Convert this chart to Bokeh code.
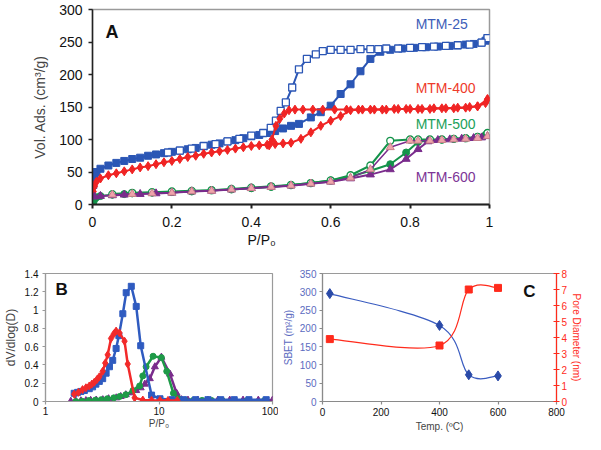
from bokeh.plotting import figure
from bokeh.layouts import column, row
from bokeh.models import Range1d, LinearAxis, Label, Title, FixedTicker, CustomJSTickFormatter
from bokeh.embed import file_html
from bokeh.resources import INLINE

FONT = "Liberation Sans"

# ---------------- Panel A : N2 isotherms ----------------
a25_ads_p = [0.002, 0.005, 0.01, 0.02, 0.04, 0.06, 0.08, 0.10, 0.12, 0.14, 0.16, 0.18, 0.20, 0.22, 0.24,
             0.26, 0.28, 0.30, 0.32, 0.34, 0.36, 0.38, 0.40, 0.42, 0.44, 0.46, 0.48, 0.50, 0.52, 0.55,
             0.575, 0.60, 0.625, 0.65, 0.675, 0.70, 0.725, 0.75, 0.78, 0.81, 0.84, 0.87, 0.90, 0.92,
             0.94, 0.96, 0.98, 0.99, 0.995]
a25_ads_v = [30, 42, 50, 55, 60, 64, 67, 70, 72, 75, 77, 79, 81, 83, 85, 87, 90, 92, 94, 97, 99, 102, 105,
             107, 110, 113, 117, 121, 124, 134, 142, 152, 170, 185, 205, 224, 235, 238, 240, 241, 242,
             243, 244, 245, 246, 247, 249, 252, 256]
a25_des_p = [0.995, 0.98, 0.95, 0.92, 0.89, 0.86, 0.83, 0.80, 0.77, 0.74, 0.72, 0.70, 0.675, 0.65, 0.625,
             0.60, 0.58, 0.5625, 0.54, 0.52, 0.503, 0.487, 0.474, 0.462, 0.449, 0.43, 0.40, 0.37, 0.34,
             0.31, 0.28, 0.25, 0.22, 0.19]
a25_des_v = [256, 249, 246, 245, 244, 243, 242, 241, 240, 240, 239, 239, 239, 238, 238, 238, 236, 231,
             224, 208, 180, 157, 144, 129, 118, 110, 106, 101, 97, 93, 90, 86, 83, 80]

a400_ads_p = [0.002, 0.005, 0.01, 0.02, 0.04, 0.06, 0.08, 0.10, 0.12, 0.14, 0.16, 0.18, 0.20, 0.22, 0.24,
              0.26, 0.28, 0.30, 0.32, 0.34, 0.36, 0.38, 0.40, 0.42, 0.44, 0.46, 0.48, 0.50, 0.525, 0.55,
              0.575, 0.60, 0.625, 0.65, 0.68, 0.71, 0.74, 0.77, 0.80, 0.83, 0.86, 0.89, 0.92, 0.95, 0.97,
              0.99, 0.995]
a400_ads_v = [20, 28, 35, 40, 45, 48, 51, 54, 57, 59, 62, 65, 67, 70, 73, 75, 78, 80, 82, 84, 86, 88, 90,
              91, 92, 93, 94, 95, 101, 111, 121, 129, 136, 145, 146, 146, 146, 147, 147, 147, 148, 148,
              149, 150, 151, 156, 162]
a400_des_p = [0.995, 0.97, 0.94, 0.91, 0.88, 0.85, 0.82, 0.79, 0.76, 0.73, 0.70, 0.67, 0.64, 0.61, 0.58,
              0.555, 0.53, 0.51, 0.495, 0.483, 0.472, 0.462, 0.452, 0.445]
a400_des_v = [162, 151, 149, 148, 148, 147, 147, 147, 147, 146, 146, 146, 146, 146, 146, 146, 146, 146,
              145, 140, 132, 121, 100, 91]

a500_ads_p = [0.002, 0.005, 0.01, 0.02, 0.05, 0.08, 0.10, 0.15, 0.20, 0.25, 0.30, 0.35, 0.40, 0.45, 0.50,
              0.55, 0.60, 0.65, 0.70, 0.75, 0.79, 0.82, 0.85, 0.88, 0.91, 0.94, 0.97, 0.99, 0.995]
a500_ads_v = [3, 8, 11, 13, 15, 16, 17, 18, 19, 20, 22, 23, 25, 27, 30, 33, 37, 43, 52, 62, 80, 96, 99,
              100, 101, 102, 104, 107, 110]
a500_des_p = [0.995, 0.97, 0.94, 0.91, 0.88, 0.85, 0.82, 0.80, 0.75, 0.70, 0.65, 0.60, 0.55, 0.50, 0.45,
              0.40, 0.35, 0.30, 0.25, 0.20, 0.15, 0.10, 0.05]
a500_des_v = [110, 104, 102, 101, 100, 100, 100, 100, 98, 60, 45, 37, 33, 30, 28, 26, 24, 22, 21, 20, 19,
              18, 16]

a600_ads_p = [0.005, 0.02, 0.05, 0.08, 0.12, 0.16, 0.20, 0.25, 0.30, 0.35, 0.40, 0.45, 0.50, 0.55, 0.60,
              0.65, 0.70, 0.75, 0.79, 0.82, 0.845, 0.87, 0.90, 0.93, 0.96, 0.98, 0.995]
a600_ads_v = [12, 13, 14, 15, 16, 17, 18, 20, 21, 23, 25, 27, 29, 32, 35, 40, 46, 54, 70, 85, 97, 99, 100,
              101, 102, 103, 105]
a600_des_p = [0.995, 0.97, 0.94, 0.91, 0.88, 0.85, 0.82, 0.80, 0.75, 0.70, 0.65, 0.60, 0.55, 0.50, 0.45,
              0.40, 0.35, 0.30, 0.25, 0.20, 0.15, 0.10, 0.05]
a600_des_v = [105, 102, 101, 100, 99, 98, 98, 98, 88, 54, 41, 35, 32, 29, 27, 25, 23, 21, 20, 18, 17, 16, 15]

a_xticks = [0, 0.2, 0.4, 0.6, 0.8, 1.0]
a_yticks = [0, 50, 100, 150, 200, 250, 300]

# ---------------- Panel B : pore size distribution ----------------
b25_x = [1.79, 1.92, 2.05, 2.2, 2.43, 2.6, 2.78, 2.98, 3.19, 3.42, 3.66, 3.91, 4.19, 4.43, 4.8, 5.14, 5.7,
         6.3, 6.9, 8.6, 10.2, 13.0, 16.5, 21, 27, 35, 46, 62, 88]
b25_y = [0.09, 0.10, 0.11, 0.12, 0.14, 0.16, 0.19, 0.22, 0.25, 0.31, 0.38, 0.45, 0.58, 0.72, 0.96, 1.19,
         1.26, 1.04, 0.61, 0.07, 0.03, 0.02, 0.02, 0.02, 0.02, 0.02, 0.02, 0.02, 0.02]
b400_x = [1.79, 1.95, 2.12, 2.27, 2.43, 2.56, 2.69, 2.84, 2.98, 3.19, 3.36, 3.53, 3.78, 4.0, 4.19, 4.49,
          4.97, 5.3, 6.1, 7.2, 8.6, 10.2, 12, 14.5]
b400_y = [0.08, 0.10, 0.13, 0.15, 0.17, 0.19, 0.21, 0.24, 0.27, 0.33, 0.42, 0.51, 0.69, 0.74, 0.77, 0.75,
          0.66, 0.41, 0.04, 0.016, 0.013, 0.012, 0.012, 0.012]
b500_x = [1.85, 2.1, 2.4, 2.75, 3.1, 3.5, 4.0, 4.5, 5.1, 5.9, 6.75, 7.2, 7.7, 8.87, 10.5, 11.7, 13.4, 14.8,
          17, 20, 24, 29, 36, 46, 60, 85]
b500_y = [0.0, 0.003, 0.01, 0.015, 0.02, 0.03, 0.04, 0.055, 0.074, 0.12, 0.17, 0.28, 0.38, 0.495, 0.48,
          0.33, 0.09, 0.03, 0.015, 0.012, 0.012, 0.012, 0.012, 0.012, 0.012, 0.012]
b600_x = [1.67, 1.85, 2.05, 2.27, 2.5, 2.8, 3.2, 3.6, 4.2, 4.6, 5.1, 5.7, 6.3, 6.9, 7.5, 8.3, 9.2, 10.5,
          12.5, 14.3, 15.8, 18, 22, 27, 33, 42, 55, 75, 100]
b600_y = [0.003, 0.005, 0.008, 0.01, 0.013, 0.016, 0.02, 0.03, 0.04, 0.055, 0.074, 0.095, 0.12, 0.15,
          0.19, 0.25, 0.38, 0.485, 0.30, 0.09, 0.02, 0.015, 0.015, 0.015, 0.015, 0.015, 0.015, 0.015, 0.015]
b_xticks = [1, 10, 100]
b_yticks = [0, 0.2, 0.4, 0.6, 0.8, 1.0, 1.2, 1.4]

# ---------------- Panel C : SBET and pore diameter vs temperature ----------------
c_temp = [25, 400, 500, 600]
c_sbet = [295, 208, 73, 70]
c_pore = [3.9, 3.5, 7.0, 7.1]
c_xticks = [0, 200, 400, 600, 800]
c_yticks = [0, 50, 100, 150, 200, 250, 300, 350]
c_y2ticks = [0, 1, 2, 3, 4, 5, 6, 7, 8]

BLUE = "#2B56B5"
RED = "#F02424"
GREEN = "#14934A"
PURPLE = "#7A2C8C"
PINK_FILL = "#EFA3AB"
PINK_LINE = "#C8808A"

num_fmt = CustomJSTickFormatter(code="return Number(tick.toFixed(2)).toString();")


def style_axis(ax, size, color="#222222", lw=1.5, tick_out=4, standoff=6, label_size=None, label_color=None):
    ax.major_label_text_font = FONT
    ax.major_label_text_font_size = f"{size}px"
    ax.major_label_text_color = "#111111" if label_color is None else label_color
    ax.axis_line_color = color
    ax.axis_line_width = lw
    ax.major_tick_line_color = color
    ax.major_tick_line_width = lw
    ax.major_tick_in = 0
    ax.major_tick_out = tick_out
    ax.minor_tick_line_color = None
    ax.major_label_standoff = standoff
    ax.axis_label_text_font = FONT
    ax.axis_label_text_font_style = "normal"
    if label_size:
        ax.axis_label_text_font_size = f"{label_size}px"


# ======== Figure A ========
pA = figure(width=585, height=250, x_range=Range1d(0, 1), y_range=Range1d(0, 300),
            output_backend="svg", toolbar_location=None,
            min_border_left=92, min_border_right=96, min_border_top=9, min_border_bottom=46)
pA.grid.visible = False
pA.outline_line_color = "#9a9a9a"
pA.outline_line_width = 1.5
style_axis(pA.xaxis[0], 14, lw=2, tick_out=4, standoff=8)
style_axis(pA.yaxis[0], 14, lw=1.5, tick_out=4, standoff=6, label_size=14)
pA.xaxis[0].ticker = FixedTicker(ticks=a_xticks)
pA.yaxis[0].ticker = FixedTicker(ticks=a_yticks)
pA.xaxis[0].formatter = num_fmt
pA.yaxis[0].formatter = num_fmt
pA.yaxis[0].axis_label = "Vol. Ads. (cm³/g)"
pA.yaxis[0].axis_label_standoff = 8
pA.add_layout(Title(text="P/P₀", align="left", offset=155, standoff=0, text_font=FONT,
                    text_font_size="14px", text_font_style="normal", text_color="#111111"), "below")

# MTM-25
pA.line(a25_ads_p, a25_ads_v, line_color=BLUE, line_width=2)
pA.scatter(a25_ads_p, a25_ads_v, marker="square", size=7, fill_color=BLUE, line_color=BLUE)
pA.line(a25_des_p, a25_des_v, line_color=BLUE, line_width=2)
pA.scatter(a25_des_p, a25_des_v, marker="square", size=7, fill_color="white", line_color=BLUE, line_width=1.3)
# MTM-400
pA.line(a400_ads_p, a400_ads_v, line_color=RED, line_width=2)
pA.scatter(a400_ads_p, a400_ads_v, marker="diamond", size=9, fill_color=RED, line_color=RED)
pA.line(a400_des_p, a400_des_v, line_color=RED, line_width=2)
pA.scatter(a400_des_p, a400_des_v, marker="diamond", size=9, fill_color=RED, line_color=RED)
# MTM-500
pA.line(a500_ads_p, a500_ads_v, line_color=GREEN, line_width=2)
pA.scatter(a500_ads_p, a500_ads_v, marker="circle", size=7, fill_color=GREEN, line_color=GREEN)
pA.line(a500_des_p, a500_des_v, line_color=GREEN, line_width=2)
pA.scatter(a500_des_p, a500_des_v, marker="circle", size=7, fill_color="white", line_color=GREEN, line_width=1.3)
# MTM-600
pA.line(a600_ads_p, a600_ads_v, line_color=PURPLE, line_width=2)
pA.scatter(a600_ads_p, a600_ads_v, marker="triangle", size=8, fill_color=PURPLE, line_color=PURPLE)
pA.line(a600_des_p, a600_des_v, line_color=PURPLE, line_width=1.5)
pA.scatter(a600_des_p, a600_des_v, marker="triangle", size=8, fill_color=PINK_FILL, line_color=PINK_LINE, line_width=1)

for txt, yy, col in [("MTM-25", 277, "#3D5DB8"), ("MTM-400", 180, "#EE3B2B"),
                     ("MTM-500", 124, "#1BA15A"), ("MTM-600", 43, "#7D3596")]:
    pA.add_layout(Label(x=0.814, y=yy, text=txt, text_font=FONT, text_font_size="14px",
                        text_color=col, text_align="left", text_baseline="middle"))
pA.add_layout(Label(x=0.033, y=265, text="A", text_font=FONT, text_font_size="18px",
                    text_font_style="bold", text_color="#111111", text_align="left", text_baseline="middle"))

# ======== Figure B ========
pB = figure(width=278, height=184, x_axis_type="log", x_range=Range1d(1, 100), y_range=Range1d(0, 1.4),
            output_backend="svg", toolbar_location=None,
            min_border_left=44, min_border_right=6, min_border_top=14, min_border_bottom=28)
pB.grid.visible = False
pB.outline_line_color = "#9a9a9a"
pB.outline_line_width = 1.2
style_axis(pB.xaxis[0], 10, color="#9a9a9a", lw=1.2, tick_out=3, standoff=2, label_size=10)
style_axis(pB.yaxis[0], 10, color="#9a9a9a", lw=1.2, tick_out=3, standoff=4, label_size=12)
pB.xaxis[0].ticker = FixedTicker(ticks=b_xticks)
pB.yaxis[0].ticker = FixedTicker(ticks=b_yticks)
pB.xaxis[0].formatter = num_fmt
pB.yaxis[0].formatter = num_fmt
pB.xaxis[0].axis_label = "P/P₀"
pB.xaxis[0].axis_label_standoff = 0
pB.yaxis[0].axis_label = "dV/dlog(D)"
pB.yaxis[0].axis_label_standoff = 4

pB.line(b600_x, b600_y, line_color=PURPLE, line_width=2.5)
pB.scatter(b600_x, b600_y, marker="triangle", size=7, fill_color=PURPLE, line_color=PURPLE)
pB.line(b500_x, b500_y, line_color="#1E9A48", line_width=2.5)
pB.scatter(b500_x, b500_y, marker="circle", size=6, fill_color="#1E9A48", line_color="#1E9A48")
pB.line(b25_x, b25_y, line_color="#2F5BC0", line_width=2.5)
pB.scatter(b25_x, b25_y, marker="square", size=6, fill_color="#2F5BC0", line_color="#2F5BC0")
pB.line(b400_x, b400_y, line_color="#F22A2A", line_width=2.5)
pB.scatter(b400_x, b400_y, marker="diamond", size=8, fill_color="#F22A2A", line_color="#F22A2A")
pB.add_layout(Label(x=1.225, y=1.225, text="B", text_font=FONT, text_font_size="17px",
                    text_font_style="bold", text_color="#111111", text_align="left", text_baseline="middle"))

# ======== Figure C ========
def smooth_segments(xs, ys):
    n = len(xs)
    out = dict(x0=[], y0=[], x1=[], y1=[], cx0=[], cy0=[], cx1=[], cy1=[])
    for i in range(n - 1):
        xp, yp = (xs[i - 1], ys[i - 1]) if i > 0 else (xs[i], ys[i])
        xn, yn = (xs[i + 2], ys[i + 2]) if i + 2 < n else (xs[i + 1], ys[i + 1])
        out["x0"].append(xs[i]); out["y0"].append(ys[i])
        out["x1"].append(xs[i + 1]); out["y1"].append(ys[i + 1])
        out["cx0"].append(xs[i] + (xs[i + 1] - xp) / 6); out["cy0"].append(ys[i] + (ys[i + 1] - yp) / 6)
        out["cx1"].append(xs[i + 1] - (xn - xs[i]) / 6); out["cy1"].append(ys[i + 1] - (yn - ys[i]) / 6)
    return out


C_BLUE = "#3A5CC0"
C_RED = "#FF2B1C"
pC = figure(width=307, height=184, x_range=Range1d(0, 800), y_range=Range1d(0, 350),
            output_backend="svg", toolbar_location=None,
            min_border_left=44, min_border_right=26, min_border_top=23, min_border_bottom=33)
pC.grid.visible = False
pC.outline_line_color = "#9a9a9a"
pC.outline_line_width = 1.2
pC.extra_y_ranges = {"pd": Range1d(0, 8)}
style_axis(pC.xaxis[0], 10, color="#8a8a8a", lw=1.2, tick_out=3, standoff=3, label_size=10)
style_axis(pC.yaxis[0], 10, color="#8a8a8a", lw=1.2, tick_out=3, standoff=3, label_size=10,
           label_color="#5B6BC0")
pC.xaxis[0].ticker = FixedTicker(ticks=c_xticks)
pC.yaxis[0].ticker = FixedTicker(ticks=c_yticks)
pC.xaxis[0].formatter = num_fmt
pC.yaxis[0].formatter = num_fmt
pC.xaxis[0].axis_label = "Temp. (ºC)"
pC.xaxis[0].axis_label_standoff = 2
pC.yaxis[0].axis_label = "SBET (m²/g)"
pC.yaxis[0].axis_label_text_color = "#5B6BC0"
pC.yaxis[0].axis_label_standoff = 3

ax2 = LinearAxis(y_range_name="pd", ticker=FixedTicker(ticks=c_y2ticks), formatter=num_fmt,
                 axis_label="Pore Diameter (nm)")
style_axis(ax2, 10, color=C_RED, lw=1.2, tick_out=3, standoff=2, label_size=10, label_color=C_RED)
ax2.major_tick_in = 3
ax2.axis_label_text_color = C_RED
ax2.axis_label_standoff = 1
pC.add_layout(ax2, "right")

sb = smooth_segments(c_temp, c_sbet)
pC.bezier(line_color=C_BLUE, line_width=1.2, **sb)
pC.scatter(c_temp, c_sbet, marker="diamond", size=10, fill_color="#2A4AA8", line_color="#2A4AA8")
pdseg = smooth_segments(c_temp, c_pore)
pC.bezier(line_color=C_RED, line_width=1.2, y_range_name="pd", **pdseg)
pC.scatter(c_temp, c_pore, marker="square", size=7, fill_color=C_RED, line_color=C_RED, y_range_name="pd")
pC.add_layout(Label(x=686, y=300, text="C", text_font=FONT, text_font_size="17px",
                    text_font_style="bold", text_color="#111111", text_align="left", text_baseline="middle"))

layout = column(pA, row(pB, pC, spacing=0), spacing=0)
open("out.html", "w").write(file_html(layout, INLINE))
